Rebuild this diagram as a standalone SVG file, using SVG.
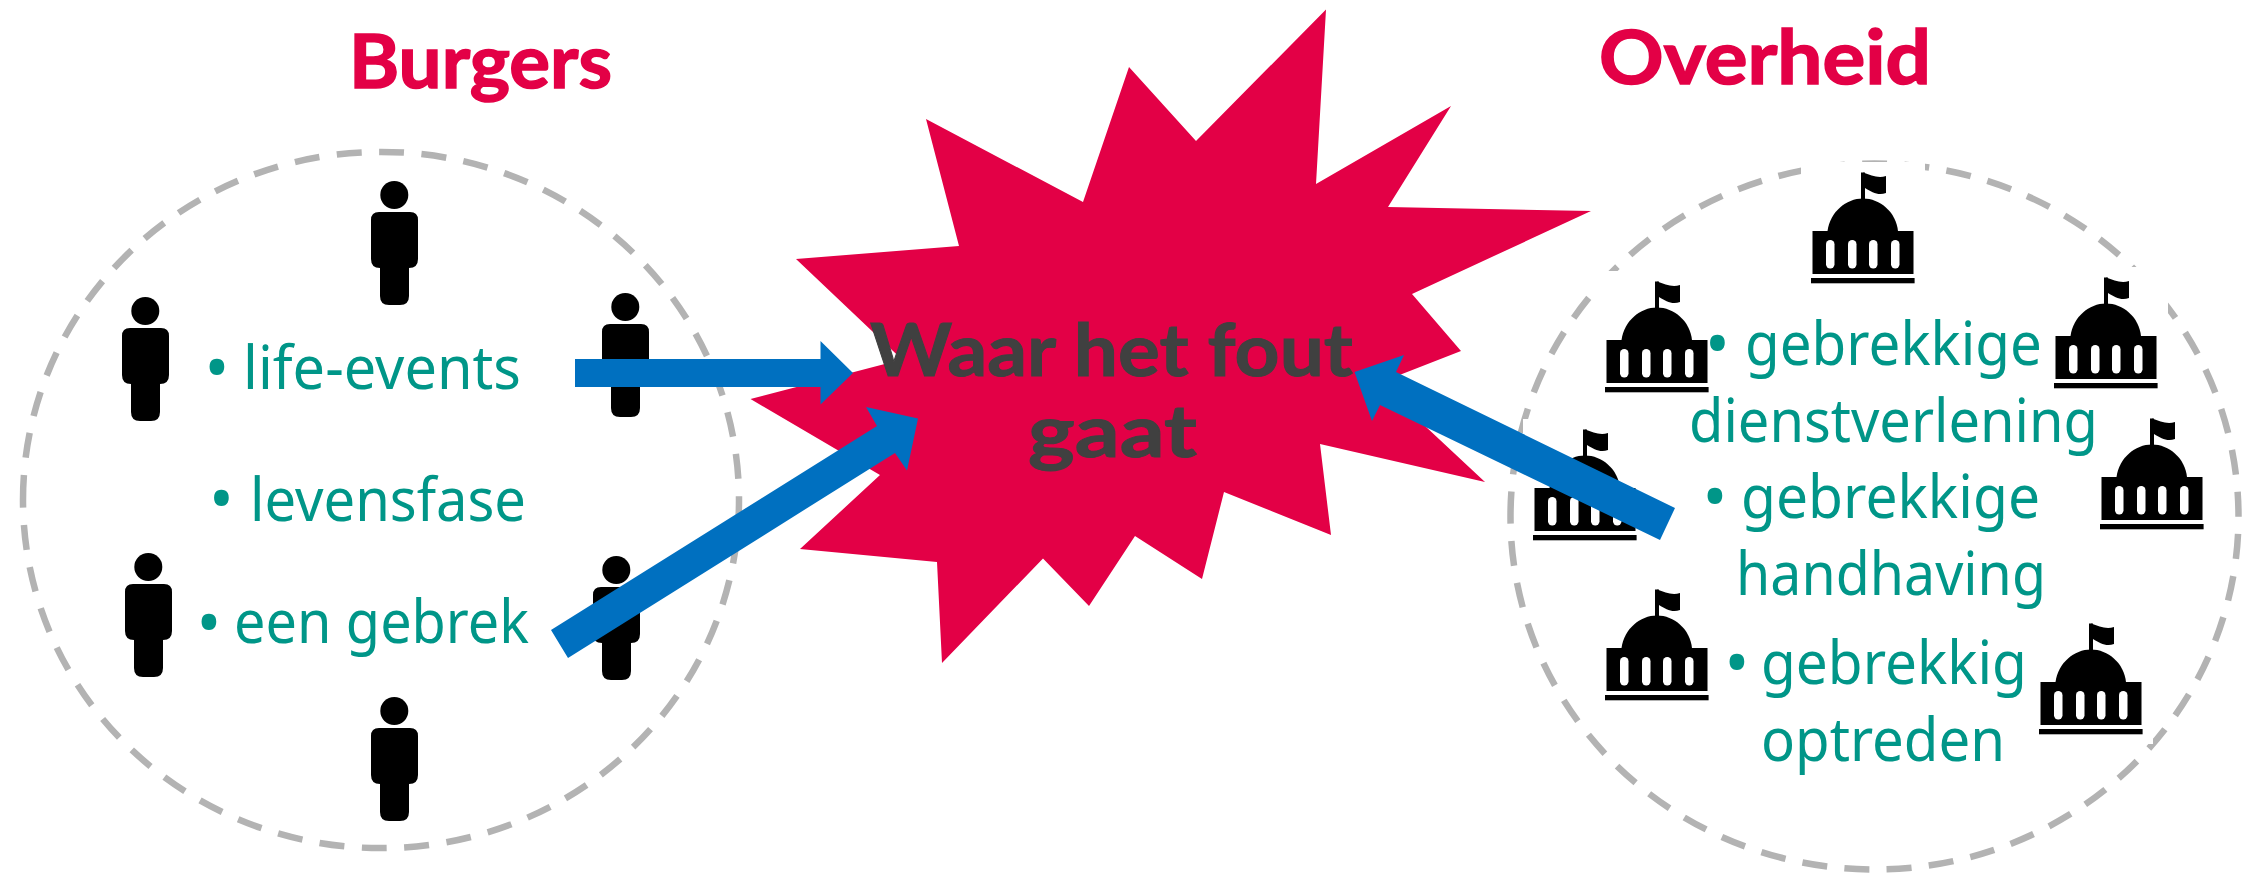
<svg xmlns="http://www.w3.org/2000/svg" width="2247" height="874" viewBox="0 0 2247 874">
<style>
.ring{fill:none;stroke:#b3b3b3;stroke-width:6.5}
.t{font-family:"Noto Sans","Open Sans",sans-serif;font-size:60px;fill:#009688}
.b{font-family:"Noto Sans","Open Sans",sans-serif;font-size:66px;fill:#009688;text-anchor:middle}
.h{font-family:"Lato","Noto Sans",sans-serif;font-weight:700;font-size:74px;fill:#e30046;stroke:#e30046;stroke-width:1.5}
.c{font-family:"Lato","Noto Sans",sans-serif;font-weight:700;font-size:73px;fill:#404040;stroke:#404040;stroke-width:1}
.a{fill:#0070c0}
</style>
<defs>
<symbol id="person" width="47" height="124" viewBox="0 0 47 124" overflow="visible">
<ellipse cx="23.3" cy="14" rx="14" ry="14"/>
<path d="M8,31H39Q47,31 47,39V78Q47,87 38,87V115Q38,124 29,124H18Q9,124 9,115V87Q0,87 0,78V39Q0,31 8,31Z"/>
</symbol>
<symbol id="building" width="124" height="131" viewBox="-10 -10 124 131" overflow="visible">
<rect x="-10" y="-10" width="124" height="131" fill="#fff"/>
<rect x="50" y="0.5" width="4" height="27"/>
<path d="M52,0.5C60,3 67,7 75,4V21C67,24 61,20 54,16Z"/>
<path d="M16.5,59C19,40 35,26.5 52,26.5C69,26.5 85,40 87,59Z"/>
<rect x="1.5" y="59" width="101" height="43"/>
<g fill="#fff"><rect x="15" y="68" width="8.5" height="28.5" rx="4.2"/><rect x="37" y="68" width="8.5" height="28.5" rx="4.2"/><rect x="58" y="68" width="8.5" height="28.5" rx="4.2"/><rect x="80" y="68" width="8.5" height="28.5" rx="4.2"/></g>
<rect x="0" y="106" width="103.6" height="5.3"/>
</symbol>
</defs>
<rect width="2247" height="874" fill="#fff"/>
<g id="burgers-circle"><path class="ring" d="M23,500A358,348 0 1 1 739,500A358,348 0 1 1 23,500" stroke-dasharray="25 17.5"/></g>
<g id="overheid-circle"><path class="ring" d="M1510.500,516.500A364,353 0 1 1 2238.500,516.500A364,353 0 1 1 1510.500,516.500" stroke-dasharray="25 17.35"/></g>
<g id="burgers-title"><text class="h" x="349" y="88" textLength="263" lengthAdjust="spacingAndGlyphs">Burgers</text></g>
<g id="overheid-title"><text class="h" x="1599" y="84" textLength="332" lengthAdjust="spacingAndGlyphs">Overheid</text></g>
<g id="person-1"><use href="#person" x="371" y="181"/></g>
<g id="person-2"><use href="#person" x="122" y="297"/></g>
<g id="person-3"><use href="#person" x="602" y="293"/></g>
<g id="person-4"><use href="#person" x="125" y="553"/></g>
<g id="person-5"><use href="#person" x="593" y="556"/></g>
<g id="person-6"><use href="#person" x="371" y="697"/></g>
<g id="building-1"><use href="#building" x="1801" y="162"/></g>
<g id="building-2"><use href="#building" x="1595" y="271"/></g>
<g id="building-3"><use href="#building" x="2044" y="267"/></g>
<g id="building-4"><use href="#building" x="1523" y="419"/></g>
<g id="building-5"><use href="#building" x="2090" y="408"/></g>
<g id="building-6"><use href="#building" x="1595" y="579"/></g>
<g id="building-7"><use href="#building" x="2029" y="613"/></g>
<g id="burgers-list">
<text class="b" x="217" y="391">•</text><text class="t" x="243" y="389" textLength="278" lengthAdjust="spacingAndGlyphs">life-events</text>
<text class="b" x="221.500" y="522">•</text><text class="t" x="250" y="520.500" textLength="276" lengthAdjust="spacingAndGlyphs">levensfase</text>
<text class="b" x="209" y="645.500">•</text><text class="t" x="234" y="643" textLength="295" lengthAdjust="spacingAndGlyphs">een gebrek</text>
</g>
<g id="overheid-list">
<text class="b" x="1717.500" y="366.500">•</text><text class="t" x="1745" y="365" textLength="297" lengthAdjust="spacingAndGlyphs">gebrekkige</text>
<text class="t" x="1689" y="441.500" textLength="409" lengthAdjust="spacingAndGlyphs">dienstverlening</text>
<text class="b" x="1715" y="519.500">•</text><text class="t" x="1741" y="518" textLength="299" lengthAdjust="spacingAndGlyphs">gebrekkige</text>
<text class="t" x="1736" y="595" textLength="310" lengthAdjust="spacingAndGlyphs">handhaving</text>
<text class="b" x="1737" y="685.500">•</text><text class="t" x="1761" y="684" textLength="266" lengthAdjust="spacingAndGlyphs">gebrekkig</text>
<text class="t" x="1761" y="760.500" textLength="244" lengthAdjust="spacingAndGlyphs">optreden</text>
</g>
<g id="burst">
<polygon fill="#e30046" points="1326,9.500 1316,184 1451,106 1388,207 1591,211 1412,294 1461,351 1379,383 1485,482 1320,444 1331,535 1224,492 1202,579 1135,536 1089,606 1043,558.500 942,663 937,562 800,549 880,475 750.500,399 902,359.500 796,259 959,246 926,119 1083,202 1129,67 1196,141"/>
<text class="c" x="870" y="376" textLength="483" lengthAdjust="spacingAndGlyphs">Waar het fout</text>
<text class="c" x="1028" y="456.500" textLength="169" lengthAdjust="spacingAndGlyphs">gaat</text>
</g>
<g id="connectors">
<polygon class="a" points="575,359 820.500,359 820.500,341 853,373 820.500,404.600 820.500,387 575,387"/>
<polygon class="a" points="551,630 877,426 866,407 918,418.500 907,470.500 895,453 568,658"/>
<polygon class="a" points="1675,508 1396,372 1404,355 1354.500,372 1372,421 1380,405 1660,540"/>
</g>
</svg>
